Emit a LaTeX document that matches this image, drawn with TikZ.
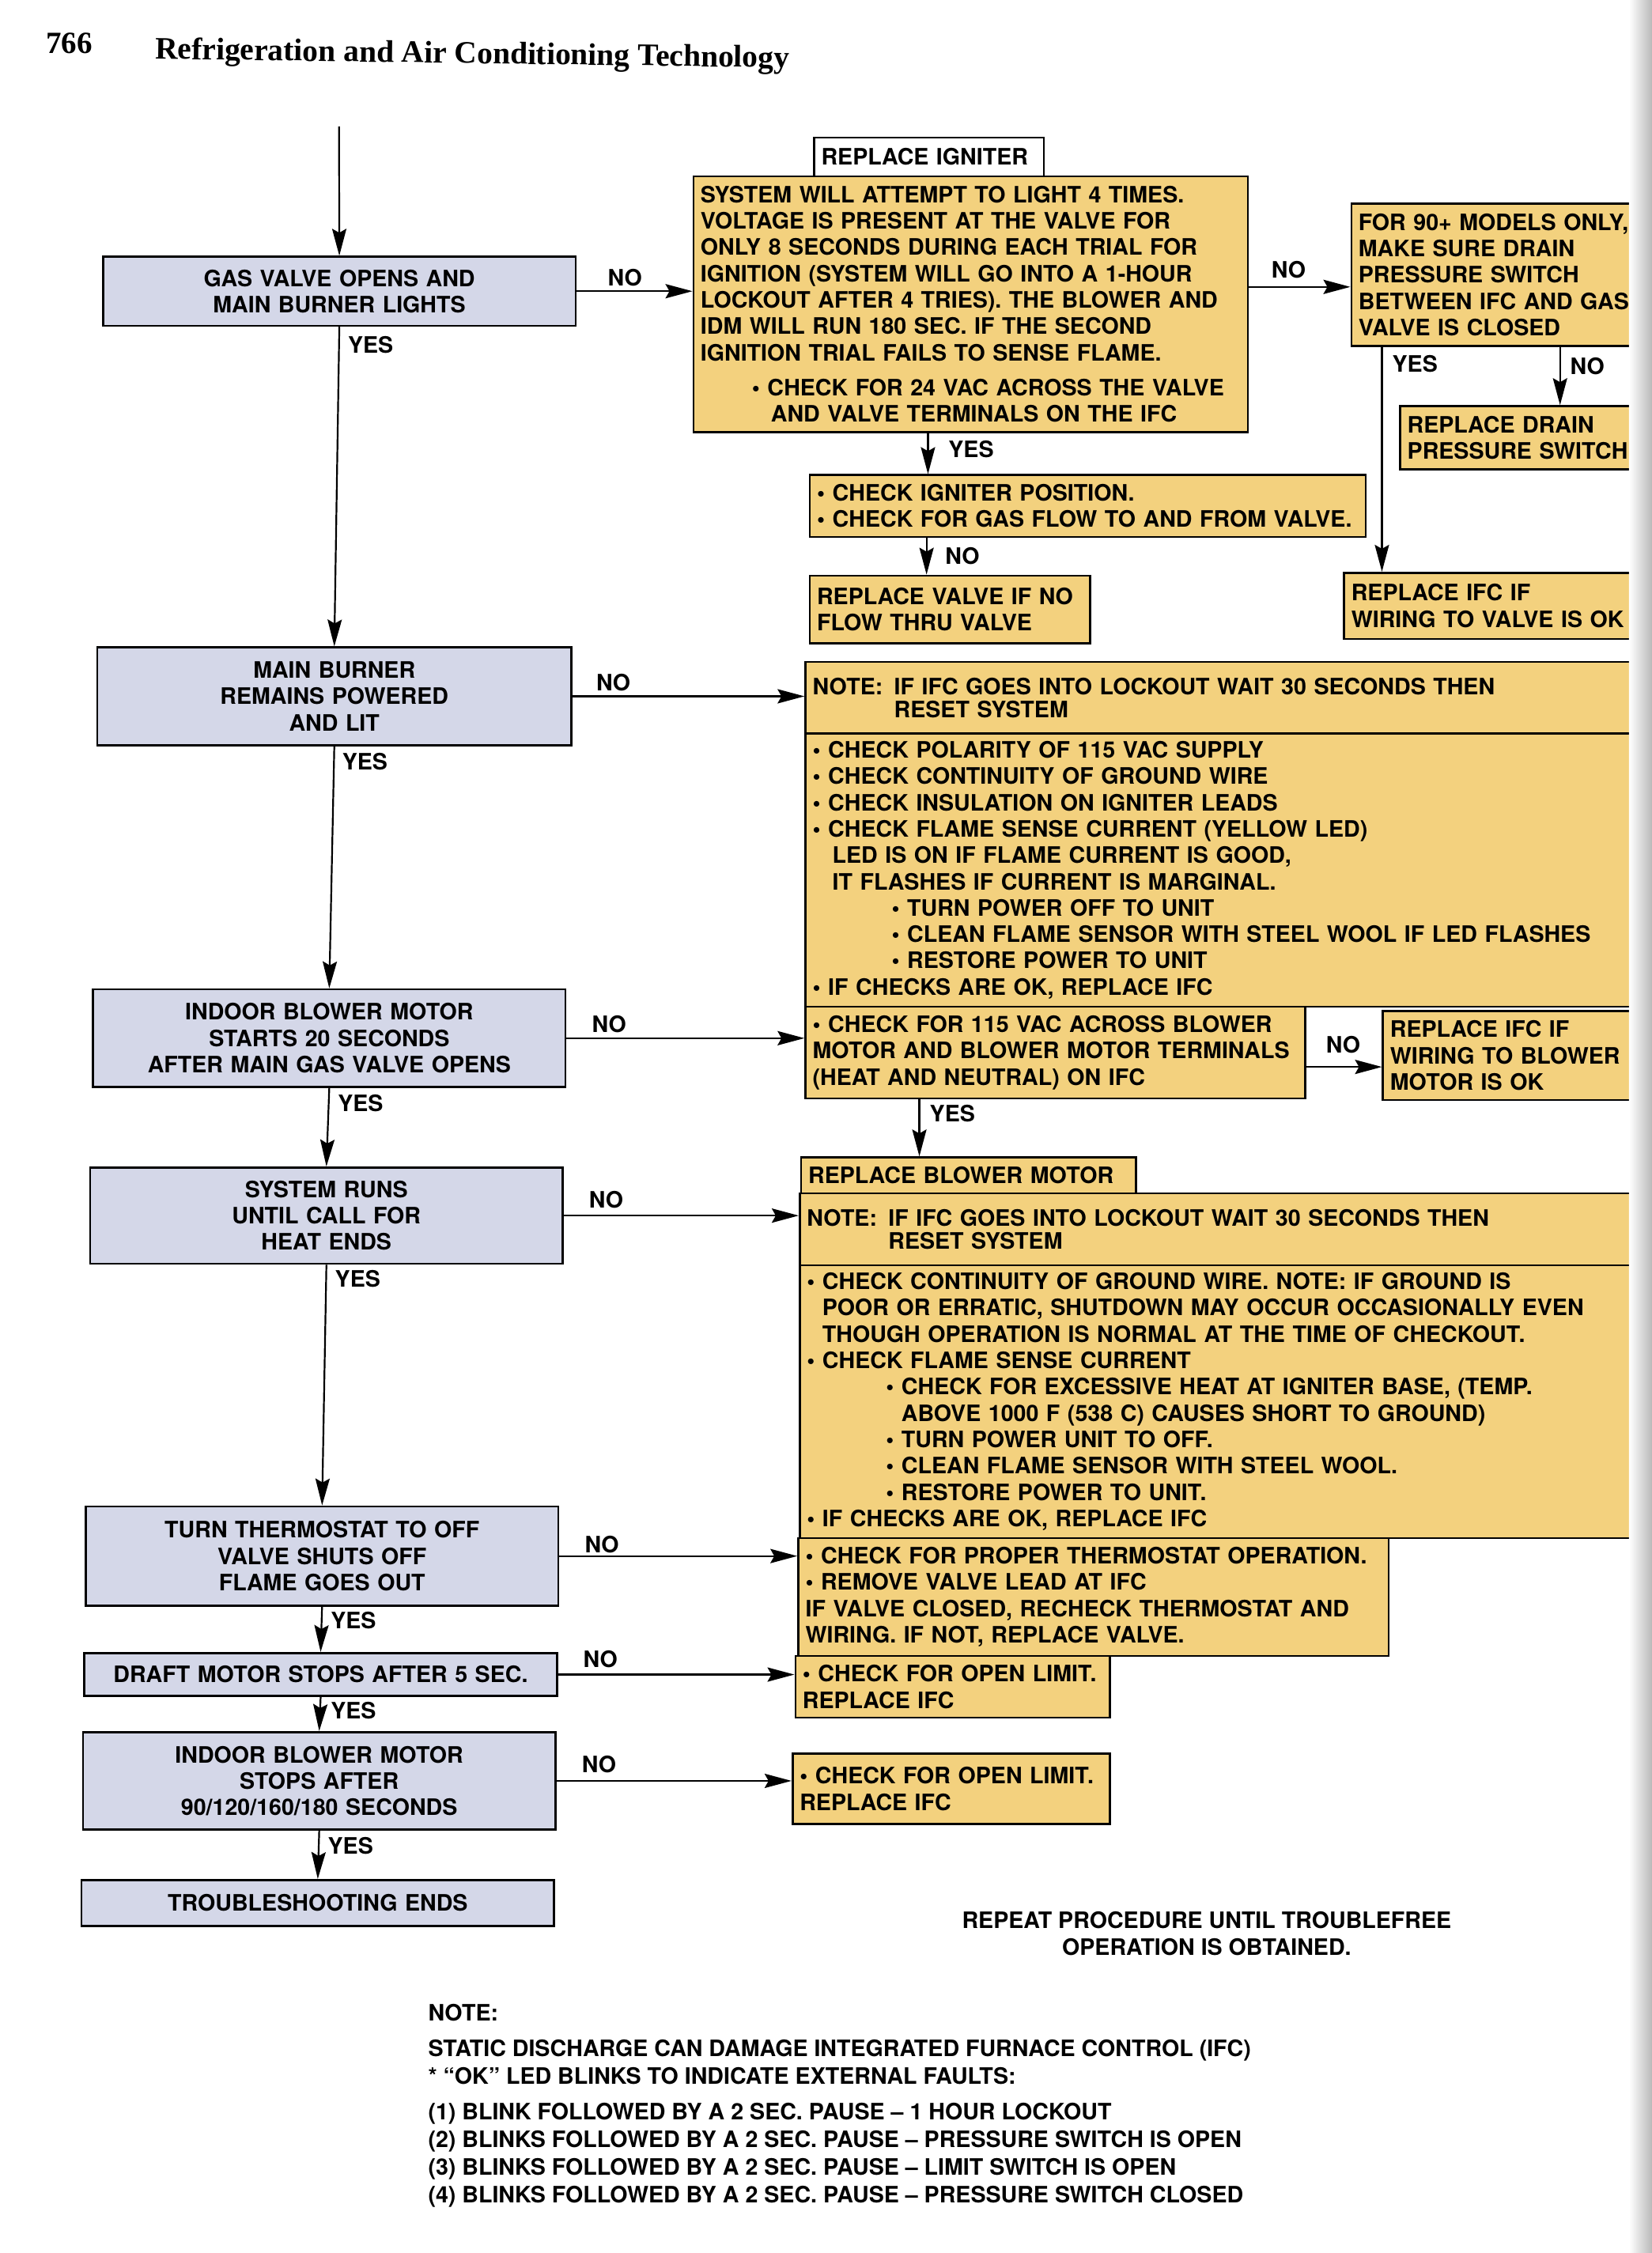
\documentclass[tikz,border=0pt]{standalone}
\usepackage{fontspec}
\setmainfont{TeX Gyre Heros}
\newfontfamily\headfont{Liberation Serif}
\usetikzlibrary{arrows.meta,positioning}
\newlength\unitpx
\setlength\unitpx{1.8165pt}
\definecolor{testblue}{RGB}{212,215,232}
\definecolor{fixyellow}{RGB}{243,209,126}
\newcommand\chartfont{\bfseries\fontsize{28.6}{33.3}\selectfont}
\newcommand\subind{\hspace*{100pt}}
\tikzset{
  check/.style 2 args={draw, line width=2.6pt, fill=testblue, anchor=north west,
    text width=#1\unitpx, minimum height=#2\unitpx, inner xsep=5\unitpx,
    inner ysep=3\unitpx, align=center, font=\chartfont},
  remedy/.style 2 args={check={#1}{#2}, fill=fixyellow, align=left},
  arr/.style={-{Stealth[length=34pt,width=18pt,inset=5pt]}, line width=2.2pt},
  answer/.style={font=\chartfont, inner sep=0pt}
}
\begin{document}
\begin{tikzpicture}[x=1.8165pt, y=-1.8165pt]
\useasboundingbox (0,0) rectangle (1150,1568.4);

\node[anchor=base west, inner sep=0, font=\headfont\bfseries\fontsize{39}{39}\selectfont] (pagenum) at (32,37) {766};
\node[anchor=base west, inner sep=0, rotate=-0.8, font=\headfont\bfseries\fontsize{39.5}{39}\selectfont] (title) at (108,41) {Refrigeration and Air Conditioning Technology};

% left column
\node[check={319}{48}] (gasvalve) at (71,178) {GAS VALVE OPENS AND\\MAIN BURNER LIGHTS};
\node[check={320}{68}] (burnerlit) at (67,450) {MAIN BURNER\\REMAINS POWERED\\AND LIT};
\node[check={319}{68}] (blowerstart) at (64,688) {INDOOR BLOWER MOTOR\\STARTS 20 SECONDS\\AFTER MAIN GAS VALVE OPENS};
\node[check={319}{67}] (systemruns) at (62,812) {SYSTEM RUNS\\UNTIL CALL FOR\\HEAT ENDS};
\node[check={319}{69}] (thermooff) at (59,1048) {TURN THERMOSTAT TO OFF\\VALVE SHUTS OFF\\FLAME GOES OUT};
\node[check={319}{30}] (draftstop) at (58,1150) {DRAFT MOTOR STOPS AFTER 5 SEC.};
\node[check={319}{68}] (blowerstop) at (57,1205) {INDOOR BLOWER MOTOR\\STOPS AFTER\\90/120/160/180 SECONDS};
\node[check={319}{32}] (shootend) at (56,1308) {TROUBLESHOOTING ENDS};

% right column
\node[remedy={150}{27}, fill=white] (ignhead) at (566,95) {REPLACE IGNITER};
\node[remedy={376}{178}] (igniter) at (482,122) {SYSTEM WILL ATTEMPT TO LIGHT 4 TIMES.\\
VOLTAGE IS PRESENT AT THE VALVE FOR\\
ONLY 8 SECONDS DURING EACH TRIAL FOR\\
IGNITION (SYSTEM WILL GO INTO A 1-HOUR\\
LOCKOUT AFTER 4 TRIES). THE BLOWER AND\\
IDM WILL RUN 180 SEC. IF THE SECOND\\
IGNITION TRIAL FAILS TO SENSE FLAME.\\[11pt]
\hspace*{65pt}• CHECK FOR 24 VAC ACROSS THE VALVE\\
\hspace*{89pt}AND VALVE TERMINALS ON THE IFC};
\node[remedy={198}{99}] (ninety) at (940,141) {FOR 90+ MODELS ONLY,\\MAKE SURE DRAIN\\PRESSURE SWITCH\\BETWEEN IFC AND GAS\\VALVE IS CLOSED};
\node[remedy={164}{44}] (drain) at (974,282) {REPLACE DRAIN\\PRESSURE SWITCH};
\node[remedy={203}{46}] (ifcvalve) at (935,398) {REPLACE IFC IF\\WIRING TO VALVE IS OK};
\node[remedy={377}{43}] (checkig) at (563,330) {• CHECK IGNITER POSITION.\\• CHECK FOR GAS FLOW TO AND FROM VALVE.};
\node[remedy={185}{47}] (valve) at (563,400) {REPLACE VALVE IF NO\\FLOW THRU VALVE};

\node[remedy={578}{50}] (lockone) at (560,460) {NOTE:\enspace IF IFC GOES INTO LOCKOUT WAIT 30 SECONDS THEN\\[-4pt]\phantom{NOTE:\enspace}RESET SYSTEM};
\node[remedy={578}{190}] (flameone) at (560,510) {• CHECK POLARITY OF 115 VAC SUPPLY\\
• CHECK CONTINUITY OF GROUND WIRE\\
• CHECK INSULATION ON IGNITER LEADS\\
• CHECK FLAME SENSE CURRENT (YELLOW LED)\\
\hspace*{25pt}LED IS ON IF FLAME CURRENT IS GOOD,\\
\hspace*{25pt}IT FLASHES IF CURRENT IS MARGINAL.\\
\subind• TURN POWER OFF TO UNIT\\
\subind• CLEAN FLAME SENSOR WITH STEEL WOOL IF LED FLASHES\\
\subind• RESTORE POWER TO UNIT\\
• IF CHECKS ARE OK, REPLACE IFC};
\node[remedy={338}{64}] (blowvolt) at (560,700) {• CHECK FOR 115 VAC ACROSS BLOWER\\MOTOR AND BLOWER MOTOR TERMINALS\\(HEAT AND NEUTRAL) ON IFC};
\node[remedy={176}{62}] (ifcblow) at (962,703) {REPLACE IFC IF\\WIRING TO BLOWER\\MOTOR IS OK};
\node[remedy={223}{25}] (blowrepl) at (557,805) {REPLACE BLOWER MOTOR};
\node[remedy={582}{50}] (locktwo) at (556,830) {NOTE:\enspace IF IFC GOES INTO LOCKOUT WAIT 30 SECONDS THEN\\[-4pt]\phantom{NOTE:\enspace}RESET SYSTEM};
\node[remedy={582}{190}] (flametwo) at (556,880) {• CHECK CONTINUITY OF GROUND WIRE. NOTE: IF GROUND IS\\
\phantom{• }POOR OR ERRATIC, SHUTDOWN MAY OCCUR OCCASIONALLY EVEN\\
\phantom{• }THOUGH OPERATION IS NORMAL AT THE TIME OF CHECKOUT.\\
• CHECK FLAME SENSE CURRENT\\
\subind• CHECK FOR EXCESSIVE HEAT AT IGNITER BASE, (TEMP.\\
\subind\phantom{• }ABOVE 1000 F (538 C) CAUSES SHORT TO GROUND)\\
\subind• TURN POWER UNIT TO OFF.\\
\subind• CLEAN FLAME SENSOR WITH STEEL WOOL.\\
\subind• RESTORE POWER TO UNIT.\\
• IF CHECKS ARE OK, REPLACE IFC};
\node[remedy={401}{82}] (thermock) at (555,1070) {• CHECK FOR PROPER THERMOSTAT OPERATION.\\• REMOVE VALVE LEAD AT IFC\\IF VALVE CLOSED, RECHECK THERMOSTAT AND\\WIRING. IF NOT, REPLACE VALVE.};
\node[remedy={209}{43}] (limitone) at (553,1152) {• CHECK FOR OPEN LIMIT.\\REPLACE IFC};
\node[remedy={211}{49}] (limittwo) at (551,1220) {• CHECK FOR OPEN LIMIT.\\REPLACE IFC};

% connectors
\coordinate (start) at (236,88);
\draw[arr] (start) -- (gasvalve.north);
\foreach \a/\b in {gasvalve/burnerlit, burnerlit/blowerstart, blowerstart/systemruns,
    systemruns/thermooff, thermooff/draftstop, draftstop/blowerstop, blowerstop/shootend}
  \draw[arr] (\a.south) -- (\b.north);
\foreach \a/\b in {gasvalve/igniter, burnerlit/lockone, blowerstart/blowvolt,
    systemruns/locktwo, thermooff/thermock, draftstop/limitone, blowerstop/limittwo}
  \draw[arr] (\a.east) -- (\a.east -| \b.west);

\coordinate (ignout) at ([shift={(0,-12)}]igniter.east);
\draw[arr] (ignout) -- (ignout -| ninety.west);
\coordinate (ignyes) at ([shift={(83,0)}]checkig.north west);
\draw[arr] (ignyes |- igniter.south) -- (ignyes);
\coordinate (valveno) at ([shift={(82,0)}]valve.north west);
\draw[arr] (valveno |- checkig.south) -- (valveno);
\coordinate (ninyes) at ([shift={(22,0)}]ninety.south west);
\draw[arr] (ninyes) -- (ninyes |- ifcvalve.north);
\coordinate (ninno) at ([shift={(112,0)}]drain.north west);
\draw[arr] (ninno |- ninety.south) -- (ninno);
\coordinate (blowno) at ([shift={(0,10)}]blowvolt.east);
\draw[arr] (blowno) -- (blowno -| ifcblow.west);
\coordinate (blowyes) at ([shift={(83,0)}]blowrepl.north west);
\draw[arr] (blowyes |- blowvolt.south) -- (blowyes);

\foreach \x/\y [count=\i] in {258/240, 254/530, 251/768, 249/890, 246/1128, 246/1191,
    244/1285, 676/313, 985/253, 663/775}
  \node[answer] (yes\i) at (\x,\y) {YES};
\foreach \x/\y [count=\i] in {435/193, 427/475, 424/713, 422/835, 419/1075, 418/1155,
    417/1228, 897/188, 670/387, 1105/255, 935/727}
  \node[answer] (no\i) at (\x,\y) {NO};

\node[answer, align=center] (repeat) at (840,1346) {REPEAT PROCEDURE UNTIL TROUBLEFREE\\OPERATION IS OBTAINED.};
\node[answer, align=left, anchor=north west, font=\chartfont\fontsize{28.6}{35}\selectfont] (notes) at (298,1395) {NOTE:\\[10pt]
STATIC DISCHARGE CAN DAMAGE INTEGRATED FURNACE CONTROL (IFC)\\
* “OK” LED BLINKS TO INDICATE EXTERNAL FAULTS:\\[10pt]
(1) BLINK FOLLOWED BY A 2 SEC. PAUSE – 1 HOUR LOCKOUT\\
(2) BLINKS FOLLOWED BY A 2 SEC. PAUSE – PRESSURE SWITCH IS OPEN\\
(3) BLINKS FOLLOWED BY A 2 SEC. PAUSE – LIMIT SWITCH IS OPEN\\
(4) BLINKS FOLLOWED BY A 2 SEC. PAUSE – PRESSURE SWITCH CLOSED};

% page edge shadow
\shade[left color=white, right color=gray!55] (1134,0) rectangle (1150,1568.4);
\end{tikzpicture}
\end{document}
